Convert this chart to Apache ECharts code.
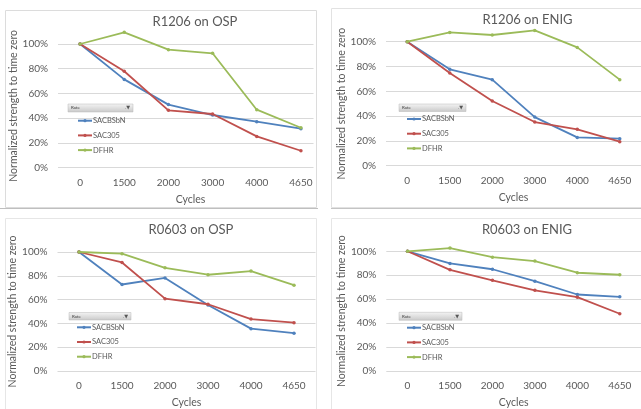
<!DOCTYPE html>
<html>
<head>
<meta charset="utf-8">
<script src="https://cdn.jsdelivr.net/npm/echarts@6/dist/echarts.min.js"></script>
<style>html,body{margin:0;padding:0;background:#fff;}#c{width:641px;height:409px;}</style>
</head>
<body>
<div id="c"></div>
<script>
const categories = ['0', '1500', '2000', '3000', '4000', '4650'];
const seriesNames = ['SACBSbN', 'SAC305', 'DFHR'];
const titles = ['R1206 on OSP', 'R1206 on ENIG', 'R0603 on OSP', 'R0603 on ENIG'];
const yTicks = [0, 20, 40, 60, 80, 100];

const r1206OspSACBSbN = [100, 71.4, 51.0, 42.6, 37.2, 31.5];
const r1206OspSAC305  = [100, 78.0, 46.4, 43.4, 25.3, 13.7];
const r1206OspDFHR    = [100, 109.4, 95.4, 92.5, 46.9, 32.3];

const r1206EnigSACBSbN = [100, 77.7, 69.4, 39.2, 22.8, 21.8];
const r1206EnigSAC305  = [100, 74.7, 52.2, 35.2, 29.3, 19.4];
const r1206EnigDFHR    = [100, 107.5, 105.4, 109.1, 95.4, 69.4];

const r0603OspSACBSbN = [100, 72.7, 78.2, 55.5, 35.6, 31.8];
const r0603OspSAC305  = [100, 91.2, 60.8, 56.1, 43.6, 40.6];
const r0603OspDFHR    = [100, 98.6, 86.7, 80.9, 84.0, 72.1];

const r0603EnigSACBSbN = [100, 89.9, 85.0, 75.0, 63.9, 62.0];
const r0603EnigSAC305  = [100, 84.5, 75.8, 67.4, 61.7, 47.8];
const r0603EnigDFHR    = [100, 102.7, 95.1, 91.8, 82.1, 80.4];

const panelData = [
  [r1206OspSACBSbN, r1206OspSAC305, r1206OspDFHR],
  [r1206EnigSACBSbN, r1206EnigSAC305, r1206EnigDFHR],
  [r0603OspSACBSbN, r0603OspSAC305, r0603OspDFHR],
  [r0603EnigSACBSbN, r0603EnigSAC305, r0603EnigDFHR]
];

const colors = ['#4F81BD', '#C0504D', '#9BBB59'];
const FONT = 'Lato, "Open Sans", sans-serif';
const TXT = '#595959';

const grids = [
  {left: 58, top: 44, width: 265, height: 123.7},
  {left: 386, top: 41.7, width: 267, height: 124},
  {left: 57.5, top: 252, width: 258, height: 120.7},
  {left: 386.3, top: 251.3, width: 264, height: 122.7}
];
const titlePos = [[195, 15], [527.5, 13], [191, 223], [527, 223]];
const legendPos = [[77, 115.7], [406, 114], [76, 322.3], [406, 322.7]];
const buttons = [[68, 104, 65, 8], [399, 104, 67, 7.5], [69, 312.5, 62, 7.5], [399, 312.3, 63, 8]];

const option = {
  animation: false,
  textStyle: {fontFamily: FONT},
  title: titles.map((t, i) => ({
    text: t, left: titlePos[i][0], top: titlePos[i][1], textAlign: 'center', padding: 0,
    textStyle: {fontFamily: FONT, fontSize: 13, fontWeight: 'normal', color: TXT}
  })),
  grid: grids.map(g => Object.assign({containLabel: false}, g)),
  legend: legendPos.map(p => ({
    data: seriesNames, orient: 'vertical', left: p[0], top: p[1], padding: 0,
    itemWidth: 14, itemHeight: 4, itemGap: 4.7, selectedMode: false,
    itemStyle: {borderWidth: 0},
    textStyle: {fontFamily: FONT, fontSize: 7.5, lineHeight: 10, color: TXT, padding: [0, 0, 0, -4]}
  })),
  xAxis: grids.map((g, i) => ({
    type: 'category', gridIndex: i, data: categories, boundaryGap: true,
    name: 'Cycles', nameLocation: 'middle', nameGap: 26,
    nameTextStyle: {fontFamily: FONT, fontSize: 10.5, color: TXT},
    axisLine: {show: false}, axisTick: {show: false},
    axisLabel: {fontFamily: FONT, fontSize: 10, color: TXT, margin: 10}
  })),
  yAxis: grids.map((g, i) => ({
    type: 'value', gridIndex: i, min: yTicks[0], max: yTicks[yTicks.length - 1], interval: yTicks[1] - yTicks[0],
    name: 'Normalized strength to time zero', nameLocation: 'middle', nameGap: 38,
    nameTextStyle: {fontFamily: FONT, fontSize: 10.5, color: TXT},
    axisLine: {show: false}, axisTick: {show: false},
    axisLabel: {fontFamily: FONT, fontSize: 10, color: TXT, margin: 10, formatter: '{value}%'},
    splitLine: {lineStyle: {color: '#d9d9d9', width: 1}}
  })),
  series: [],
  graphic: []
};

panelData.forEach((arrs, p) => {
  arrs.forEach((vals, s) => {
    option.series.push({
      type: 'line', name: seriesNames[s], xAxisIndex: p, yAxisIndex: p,
      data: vals, clip: false, symbol: 'circle', symbolSize: 3.5,
      itemStyle: {color: colors[s], borderWidth: 0}, lineStyle: {color: colors[s], width: 1.8}, z: 3 + s
    });
  });
});

const gfx = option.graphic;
// mask gridline overhang of top-left plot at panel edge
gfx.push({type: 'rect', shape: {x: 313.5, y: 30, width: 17.5, height: 150}, style: {fill: '#fff'}, z: 50});
// panel frames
gfx.push({type: 'rect', shape: {x: 5.5, y: 10.5, width: 311, height: 197}, style: {fill: 'none', stroke: '#dcdcdc', lineWidth: 1}, z: 51});
gfx.push({type: 'rect', shape: {x: 331.5, y: 8.5, width: 320, height: 199}, style: {fill: 'none', stroke: '#e2e2e2', lineWidth: 1}, z: 51});
gfx.push({type: 'rect', shape: {x: 5.5, y: 218.5, width: 311, height: 200}, style: {fill: 'none', stroke: '#e6e6e6', lineWidth: 1}, z: 51});
gfx.push({type: 'rect', shape: {x: 331.5, y: 218.5, width: 320, height: 200}, style: {fill: 'none', stroke: '#e6e6e6', lineWidth: 1}, z: 51});
gfx.push({type: 'line', shape: {x1: 0, y1: 208.5, x2: 318, y2: 208.5}, style: {stroke: '#bfbfbf', lineWidth: 1}, z: 52});
gfx.push({type: 'line', shape: {x1: 331, y1: 208.5, x2: 641, y2: 208.5}, style: {stroke: '#c4c4c4', lineWidth: 1}, z: 52});
// pivot field buttons
buttons.forEach(b => {
  gfx.push({
    type: 'group', x: b[0], y: b[1], z: 60, children: [
      {type: 'rect', shape: {x: 0, y: 0, width: b[2], height: b[3]},
        style: {stroke: '#b8b8b8', lineWidth: 0.5,
          fill: new echarts.graphic.LinearGradient(0, 0, 0, 1, [{offset: 0, color: '#f4f4f4'}, {offset: 1, color: '#c9c9c9'}])}},
      {type: 'text', x: 3, y: b[3] / 2, style: {text: 'Rate', fontSize: 4.5, fill: '#404040', verticalAlign: 'middle', fontFamily: FONT}},
      {type: 'text', x: b[2] - 3, y: b[3] / 2, style: {text: '.▼', fontSize: 5, fill: '#555', align: 'right', verticalAlign: 'middle', fontFamily: 'DejaVu Sans'}}
    ]
  });
});

const chart = echarts.init(document.getElementById('c'), null, {renderer: 'canvas'});
chart.setOption(option);
</script>
</body>
</html>
